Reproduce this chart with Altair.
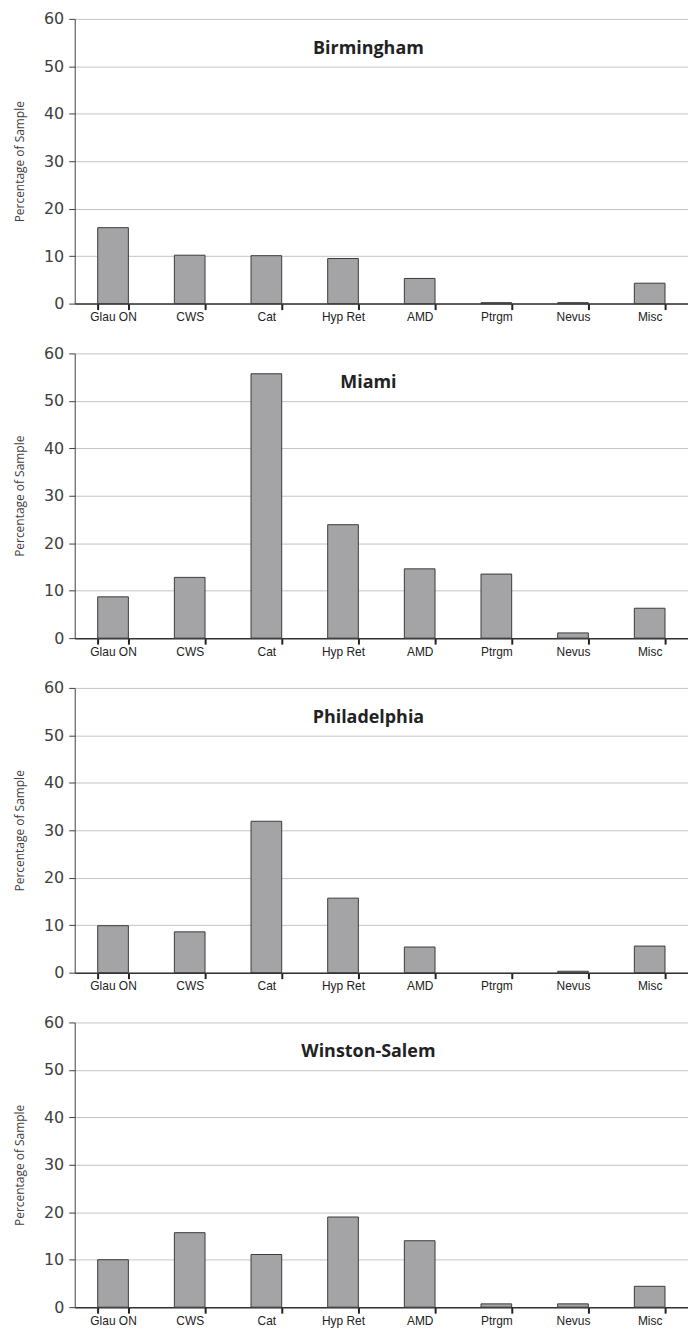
import altair as alt
import pandas as pd

categories = ["Glau ON", "CWS", "Cat", "Hyp Ret", "AMD", "Ptrgm", "Nevus", "Misc"]
cities = ["Birmingham", "Miami", "Philadelphia", "Winston-Salem"]
birmingham = [16.0, 10.2, 10.1, 9.5, 5.3, 0.2, 0.2, 4.3]
miami = [8.7, 12.8, 55.7, 23.9, 14.6, 13.5, 1.1, 6.3]
philadelphia = [9.9, 8.6, 31.9, 15.7, 5.4, 0.0, 0.3, 5.6]
winston_salem = [10.0, 15.7, 11.1, 19.0, 14.0, 0.7, 0.7, 4.4]
y_ticks = [0, 10, 20, 30, 40, 50, 60]

series = [birmingham, miami, philadelphia, winston_salem]
rows = []
for city, vals in zip(cities, series):
    for cat, v in zip(categories, vals):
        rows.append({"city": city, "category": cat, "value": v})
df = pd.DataFrame(rows)

W = 616
H = 286

panels = []
for city in cities:
    bars = (
        alt.Chart(df)
        .transform_filter((alt.datum.city == city) & (alt.datum.value > 0))
        .mark_bar(color="#a4a4a7", stroke="#3a3a3a", strokeWidth=1)
        .encode(
            x=alt.X(
                "category:N",
                sort=categories,
                scale=alt.Scale(domain=categories, paddingInner=0.6, paddingOuter=0.3),
                axis=alt.Axis(
                    title=None,
                    labelAngle=0,
                    labelFont="Liberation Sans",
                    labelFontSize=12,
                    labelColor="#222222",
                    labelPadding=2,
                    ticks=True,
                    tickBand="extent",
                    tickExtra=True,
                    tickSize=6,
                    tickColor="#222222",
                    tickWidth=2,
                    domainColor="#333333",
                    domainWidth=1.5,
                    grid=False,
                ),
            ),
            y=alt.Y(
                "value:Q",
                scale=alt.Scale(domain=[0, 60], nice=False),
                axis=alt.Axis(
                    values=y_ticks,
                    title="Percentage of Sample",
                    titleFont="Open Sans",
                    titleFontSize=12,
                    titleFontWeight="normal",
                    titleColor="#404040",
                    titlePadding=17,
                    labelFont="DejaVu Sans",
                    labelFontSize=16,
                    labelColor="#404040",
                    labelPadding=5,
                    tickSize=6,
                    tickColor="#404040",
                    domainColor="#404040",
                    grid=True,
                    gridColor="#c4c4c4",
                    gridWidth=1,
                ),
            ),
        )
        .properties(
            width=W,
            height=H,
            title=alt.TitleParams(
                text=city,
                anchor="middle",
                frame="group",
                baseline="middle",
                offset=-30,
                dx=-13,
                dy=26,
                font="Open Sans",
                fontSize=18,
                fontWeight="bold",
                color="#222222",
            ),
        )
    )
    panels.append(bars)

chart = (
    alt.vconcat(*panels, spacing=23)
    .properties(padding={"left": 5, "top": 0, "right": 0, "bottom": 0})
    .configure_view(stroke=None)
)

chart.save("out.html", embed_options={"renderer": "svg", "actions": False})
